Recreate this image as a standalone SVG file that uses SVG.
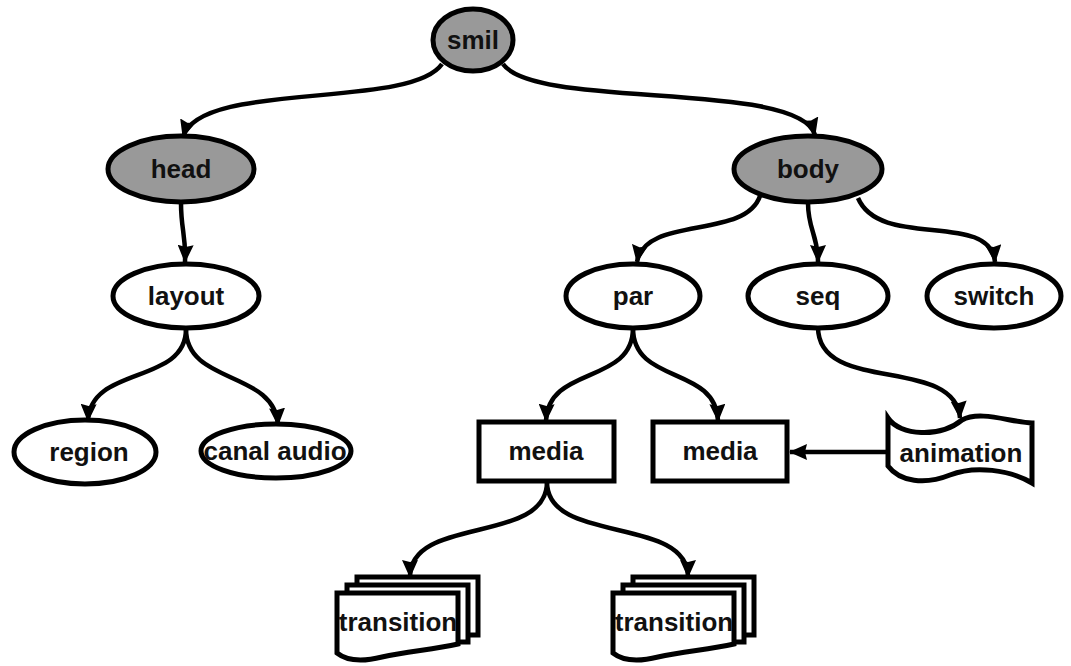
<svg xmlns="http://www.w3.org/2000/svg" width="1071" height="666" viewBox="0 0 1071 666">
<style>
.sh{stroke:#000;stroke-width:5;fill:#fff}
.gr{fill:#999}
.t{font-family:"Liberation Sans",Arial,sans-serif;font-weight:bold;font-size:26px;fill:#111;text-anchor:middle}
.c{fill:none;stroke:#000;stroke-width:4.5;marker-end:url(#ah)}
</style>
<defs>
<marker id="ah" markerUnits="userSpaceOnUse" viewBox="0 0 18 16" refX="17" refY="8" markerWidth="18" markerHeight="16" orient="auto">
<path d="M0,0 L18,8 L0,16 L2,8 z" fill="#000"/>
</marker>
<g id="card"><path d="M0,0 H121 V51 C95,57 70,58 45,64 C25,69 10,68 0,60 Z" class="sh"/></g>
</defs>
<rect width="1071" height="666" fill="#fff"/>
<g id="connectors">
<path class="c" d="M442,64 C410,110 200,80 183,137"/>
<path class="c" d="M503,64 C535,110 800,80 815,135"/>
<path class="c" d="M181,203 C181,230 186,235 185,262"/>
<path class="c" d="M760,196 C745,240 645,215 637,262"/>
<path class="c" d="M808,203 C808,230 818,235 818,262"/>
<path class="c" d="M858,198 C880,250 990,210 995,262"/>
<path class="c" d="M186,329 C186,385 90,365 88,421"/>
<path class="c" d="M186,329 C186,385 275,370 278,425"/>
<path class="c" d="M633,328 C633,385 548,365 546,421"/>
<path class="c" d="M633,328 C633,385 716,365 718,421"/>
<path class="c" d="M818,327 C818,395 955,355 960,418"/>
<path class="c" d="M888,452 L790,452"/>
<path class="c" d="M547,482 C547,545 410,515 410,577"/>
<path class="c" d="M547,482 C547,545 688,515 688,577"/>
</g>
<g id="smil"><ellipse cx="473" cy="40" rx="40" ry="31" class="sh gr"/><text x="473" y="49" class="t">smil</text></g>
<g id="head"><ellipse cx="181" cy="169" rx="73" ry="33" class="sh gr"/><text x="181" y="178" class="t">head</text></g>
<g id="body"><ellipse cx="808" cy="169" rx="74" ry="33" class="sh gr"/><text x="808" y="178" class="t">body</text></g>
<g id="layout"><ellipse cx="186" cy="296" rx="73" ry="32" class="sh"/><text x="186" y="305" class="t">layout</text></g>
<g id="par"><ellipse cx="633" cy="296" rx="67" ry="32" class="sh"/><text x="633" y="305" class="t">par</text></g>
<g id="seq"><ellipse cx="818" cy="296" rx="70" ry="32" class="sh"/><text x="818" y="305" class="t">seq</text></g>
<g id="switch"><ellipse cx="994" cy="296" rx="67" ry="32" class="sh"/><text x="994" y="305" class="t">switch</text></g>
<g id="region"><ellipse cx="85" cy="452" rx="71" ry="32" class="sh"/><text x="89" y="461" class="t">region</text></g>
<g id="canal-audio"><ellipse cx="276" cy="451" rx="75" ry="27" class="sh"/><text x="275" y="460" class="t">canal audio</text></g>
<g id="media1"><rect x="479" y="422" width="135" height="59" class="sh"/><text x="546" y="460" class="t">media</text></g>
<g id="media2"><rect x="653" y="422" width="134" height="59" class="sh"/><text x="720" y="460" class="t">media</text></g>
<g id="animation"><path class="sh" d="M888,418 C900,436 940,438 962,420 C980,410 1010,422 1032,423 L1032,483 C1010,470 975,465 950,475 C925,485 900,482 888,466 Z"/><text x="961" y="462" class="t">animation</text></g>
<g id="transition1">
<rect x="357" y="577" width="121" height="58" class="sh"/>
<rect x="347" y="585" width="121" height="57" class="sh"/>
<use href="#card" x="337" y="593"/>
<text x="398" y="631" class="t" font-size="25">transition</text>
</g>
<g id="transition2">
<rect x="633" y="577" width="121" height="58" class="sh"/>
<rect x="623" y="585" width="121" height="57" class="sh"/>
<use href="#card" x="613" y="593"/>
<text x="674" y="631" class="t" font-size="25">transition</text>
</g>
</svg>
